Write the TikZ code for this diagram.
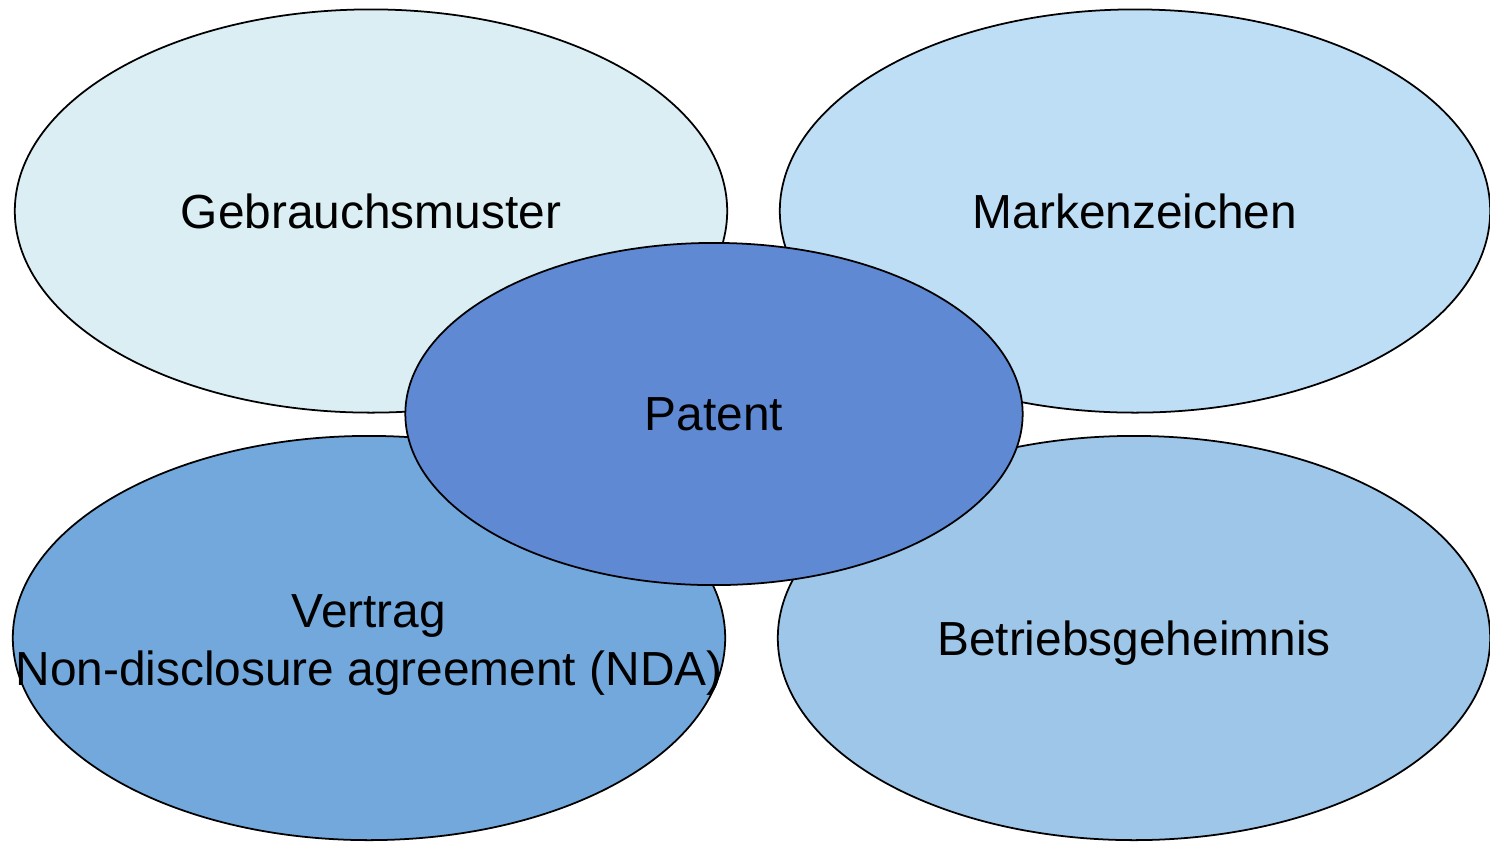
\documentclass[tikz,border=0pt]{standalone}
\usepackage{fontspec}
\setmainfont{Liberation Sans}
\usepackage{xcolor}
\usepackage{tikz}
\usetikzlibrary{shapes.geometric, positioning}
\definecolor{paleaqua}{RGB}{218, 238, 243}
\definecolor{skyblue}{RGB}{190, 222, 245}
\definecolor{midblue}{RGB}{114, 168, 220}
\definecolor{softblue}{RGB}{157, 198, 233}
\definecolor{coreblue}{RGB}{96, 137, 212}
\tikzset{
    blob/.style={ellipse, draw=black, line width=0.5pt, inner sep=0pt,
        align=center, font=\fontsize{13.6}{16.5}\selectfont},
}

\begin{document}
\begin{tikzpicture}[x=0.01cm, y=-0.01cm]
    \useasboundingbox (0,0) rectangle (1490,841);

    \node[blob, fill=paleaqua, minimum width=7.12cm, minimum height=4.03cm, text depth=0pt] (gebrauch) at (371,211) {Gebrauchsmuster};
    \node[blob, fill=skyblue, minimum width=7.10cm, minimum height=4.03cm, text depth=0pt] (marken) at (1135,211) {Markenzeichen};
    \node[blob, fill=midblue, minimum width=7.12cm, minimum height=4.04cm] (vertrag) at (369,638) {};
    \node[align=center, inner sep=0pt, font=\fontsize{13.6}{16.5}\selectfont] (vertragtext) at (369,645) {Vertrag\\Non-disclosure agreement (NDA)};
    \node[blob, fill=softblue, minimum width=7.12cm, minimum height=4.04cm, text depth=0pt] (geheimnis) at (1134,638) {Betriebsgeheimnis};

    \node[blob, fill=coreblue, minimum width=6.17cm, minimum height=3.42cm, text depth=0pt] (patent) at (714,414) {Patent};
\end{tikzpicture}
\end{document}
